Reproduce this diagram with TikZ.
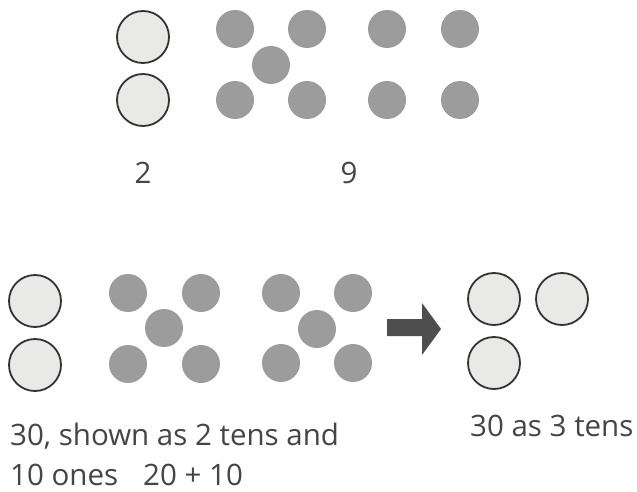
\documentclass[tikz,border=0pt]{standalone}
\usepackage{fontspec}
\setmainfont{Open Sans}
\definecolor{dotgray}{HTML}{9C9C9C}
\definecolor{tenfill}{HTML}{E9E9E7}
\definecolor{tenline}{HTML}{333333}
\definecolor{txt}{HTML}{454545}
\definecolor{arrowc}{HTML}{4E4E4E}
\begin{document}
\begin{tikzpicture}[x=1pt,y=-1pt,
  ten/.style={circle,draw=tenline,line width=1.8pt,fill=tenfill,minimum size=52pt,inner sep=0pt},
  one/.style={circle,fill=dotgray,minimum size=38pt,inner sep=0pt},
  lbl/.style={text=txt,font=\fontsize{29.5}{40}\selectfont,inner sep=0pt}]
\fill[white] (0,0) rectangle (637,492);
\useasboundingbox (0,0) rectangle (637,492);
% top
\node[ten] (t1) at (143,37) {};
\node[ten] (t2) at (143,100) {};
\node[one] (a1) at (235,29) {};
\node[one] (a2) at (307,29) {};
\node[one] (a3) at (271,65) {};
\node[one] (a4) at (235,100) {};
\node[one] (a5) at (307,100) {};
\node[one] (a6) at (387,29) {};
\node[one] (a7) at (460,29) {};
\node[one] (a8) at (387,100) {};
\node[one] (a9) at (460,100) {};
\node[lbl,anchor=base] (l2) at (143,183) {2};
\node[lbl,anchor=base] (l9) at (349,183) {9};
% bottom
\node[ten] (b1) at (35,301) {};
\node[ten] (b2) at (35,365) {};
\node[one] (c1) at (128,293) {};
\node[one] (c2) at (201,293) {};
\node[one] (c3) at (164,328) {};
\node[one] (c4) at (128,364) {};
\node[one] (c5) at (201,364) {};
\node[one] (d1) at (281,293) {};
\node[one] (d2) at (353,293) {};
\node[one] (d3) at (317,329) {};
\node[one] (d4) at (281,363) {};
\node[one] (d5) at (353,363) {};
\fill[arrowc] (387,319) -- (422,319) -- (422,303) -- (441,329) -- (422,355) -- (422,336) -- (387,336) -- cycle;
\node[ten] (r1) at (494,299) {};
\node[ten] (r2) at (562,299) {};
\node[ten] (r3) at (494,363) {};
\node[lbl,anchor=base west] (tl1) at (10,445) {30, shown as 2 tens and};
\node[lbl,anchor=base west] (tl2) at (10,485) {10 ones\hspace{0.85em}20 + 10};
\node[lbl,anchor=base west] (tr) at (470,436) {30 as 3 tens};
\end{tikzpicture}
\end{document}
